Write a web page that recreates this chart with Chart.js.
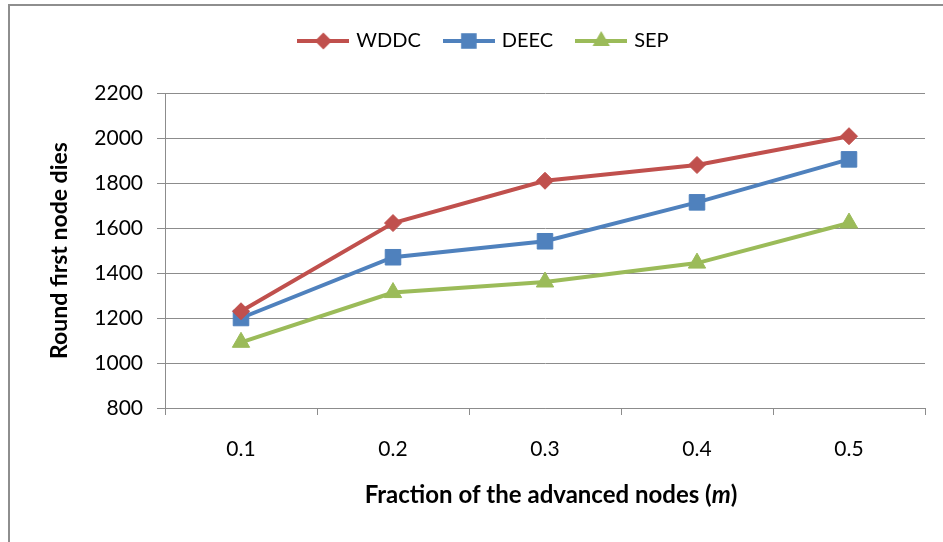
<!DOCTYPE html>
<html>
<head>
<meta charset="utf-8">
<script src="https://cdn.jsdelivr.net/npm/chart.js@4.4.1/dist/chart.umd.min.js"></script>
<style>
  html, body { margin: 0; padding: 0; background: #fff; }
  #frame {
    position: absolute; left: 8px; top: 4px;
    width: 935px; height: 538px;
    border-left: 2px solid #8e8e8e; border-top: 2px solid #8e8e8e;
  }
  canvas { display: block; }
</style>
</head>
<body>
<div id="frame"><canvas id="fnd" width="935" height="538"></canvas></div>
<script>
// --- data ---
const fractions = ['0.1', '0.2', '0.3', '0.4', '0.5'];
const wddc = [1230, 1622, 1810, 1880, 2008];
const deec = [1200, 1470, 1541, 1714, 1905];
const sep  = [1092, 1313, 1360, 1444, 1622];
const yMin = 800, yMax = 2200, yStep = 200;

const FONT = 'Lato, "Open Sans", sans-serif';
const GRID = '#8c8c8c';

const series = [
    { label: 'WDDC', data: wddc, color: '#C0504D', style: 'rectRot',  radius: 8.5 },
    { label: 'DEEC', data: deec, color: '#4F81BD', style: 'rect',     radius: 11 },
    { label: 'SEP',  data: sep,  color: '#9BBB59', style: 'triangle', radius: 10 }
];

// small canvas used as legend symbol: line with the marker on it
function legendSymbol(s) {
    const c = document.createElement('canvas');
    c.width = 52; c.height = 22;
    const g = c.getContext('2d');
    g.strokeStyle = s.color; g.fillStyle = s.color; g.lineWidth = 4;
    g.beginPath(); g.moveTo(0, 11); g.lineTo(52, 11); g.stroke();
    const x = 26, y = 11, r = s.radius;
    g.beginPath();
    if (s.style === 'rectRot') {
        g.moveTo(x - r, y); g.lineTo(x, y - r); g.lineTo(x + r, y); g.lineTo(x, y + r);
    } else if (s.style === 'rect') {
        const h = r * Math.SQRT1_2;
        g.rect(x - h, y - h, 2 * h, 2 * h);
    } else {
        g.moveTo(x, y - r);
        g.lineTo(x + r * 0.866, y + r / 2);
        g.lineTo(x - r * 0.866, y + r / 2);
    }
    g.closePath(); g.fill();
    return c;
}

// axis titles (x title has an italic "m")
const axisTitles = {
    id: 'axisTitles',
    afterLayout(chart) {
        // move the legend to where the original sits
        const lg = chart.legend;
        lg.top -= 32; lg.bottom -= 32;
        lg.left += 17; lg.right += 17;
    },
    afterDraw(chart) {
        const { ctx, chartArea } = chart;
        ctx.save();
        ctx.fillStyle = '#000';
        ctx.textBaseline = 'middle';
        const parts = [
            ['Fraction of the advanced nodes (', 'bold 24px ' + FONT],
            ['m', 'italic bold 24px ' + FONT],
            [')', 'bold 24px ' + FONT]
        ];
        let total = 0;
        parts.forEach(p => { ctx.font = p[1]; total += ctx.measureText(p[0]).width; });
        let x = (chartArea.left + chartArea.right) / 2 - total / 2 + 6;
        const y = chartArea.bottom + 87;
        ctx.textAlign = 'left';
        parts.forEach(p => {
            ctx.font = p[1];
            ctx.fillText(p[0], x, y);
            x += ctx.measureText(p[0]).width;
        });
        ctx.translate(50, (chartArea.top + chartArea.bottom) / 2);
        ctx.rotate(-Math.PI / 2);
        ctx.textAlign = 'center';
        ctx.font = 'bold 23px ' + FONT;
        ctx.fillText('Round first node dies', 0, 0);
        ctx.restore();
    }
};

const ctx = document.getElementById('fnd').getContext('2d');
new Chart(ctx, {
    type: 'line',
    data: {
        labels: fractions,
        datasets: series.map(s => ({
            label: s.label,
            data: s.data,
            borderColor: s.color,
            backgroundColor: s.color,
            borderWidth: 4,
            tension: 0,
            pointStyle: s.style,
            pointRadius: s.radius,
            pointBorderWidth: 1,
            pointBackgroundColor: s.color,
            pointBorderColor: s.color
        }))
    },
    options: {
        responsive: false,
        animation: false,
        layout: { padding: { top: 32, right: 20, left: 0, bottom: 0 } },
        scales: {
            x: {
                offset: true,
                grid: { offset: true, drawOnChartArea: false, drawTicks: true, tickLength: 7, color: GRID },
                border: { color: GRID, width: 1 },
                ticks: { color: '#000', padding: 22, font: { family: FONT, size: 21 } },
                afterFit(scale) { scale.height = 136; }
            },
            y: {
                min: yMin,
                max: yMax,
                grid: { color: GRID, tickLength: 8, lineWidth: 1 },
                border: { color: GRID, width: 1 },
                ticks: {
                    stepSize: yStep, color: '#000', padding: 14,
                    font: { family: FONT, size: 21 },
                    callback: v => String(v)
                },
                afterFit(scale) { scale.width = 155; }
            }
        },
        plugins: {
            legend: {
                position: 'top',
                labels: {
                    usePointStyle: true,
                    pointStyleWidth: 46,
                    padding: 25,
                    color: '#000',
                    font: { family: FONT, size: 20 },
                    generateLabels(chart) {
                        return Chart.defaults.plugins.legend.labels.generateLabels(chart).map((l, i) => {
                            l.pointStyle = legendSymbol(series[i]);
                            return l;
                        });
                    }
                }
            },
            tooltip: { enabled: false }
        }
    },
    plugins: [axisTitles]
});
</script>
</body>
</html>
